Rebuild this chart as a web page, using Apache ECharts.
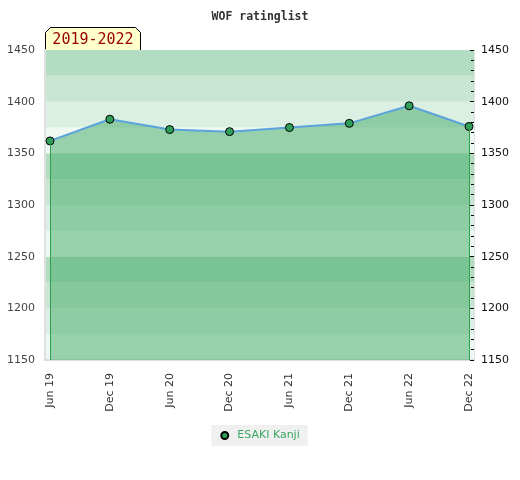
<!DOCTYPE html>
<html>
<head>
<meta charset="utf-8">
<script src="https://cdn.jsdelivr.net/npm/echarts@6/dist/echarts.min.js"></script>
<style>html,body{margin:0;padding:0;background:#fff}#c{width:520px;height:480px}</style>
</head>
<body>
<div id="c"></div>
<script>
var categories = ['Jun 19','Dec 19','Jun 20','Dec 20','Jun 21','Dec 21','Jun 22','Dec 22'];
var ratings = [1362, 1383, 1373, 1371, 1375, 1379, 1396, 1376];
var seriesName = 'ESAKI Kanji';
var periodLabel = '2019-2022';
var yMin = 1150, yMax = 1450;

var chart = echarts.init(document.getElementById('c'));
var option = {
  animation: false,
  title: {
    text: 'WOF ratinglist', left: 'center', top: 6,
    textStyle: { fontSize: 11.5, fontWeight: 'bold', fontFamily: 'DejaVu Sans Mono', color: '#333' }
  },
  legend: {
    bottom: 34, left: 'center',
    data: [{ name: seriesName, icon: 'circle' }],
    itemWidth: 7, itemHeight: 7,
    backgroundColor: '#f0f0f0', padding: [5, 8, 5, 9],
    textStyle: { color: '#3aa862', fontSize: 11, fontFamily: 'DejaVu Sans', padding: [0, 0, 0, 4] }
  },
  grid: [
    { left: 45, right: 46, top: 50, bottom: 120 },
    { left: 50, right: 51, top: 50, bottom: 120 }
  ],
  xAxis: [
    { type: 'value', gridIndex: 0, min: 0, max: 1, axisLabel: { show: false }, axisTick: { show: false },
      splitLine: { show: false }, axisLine: { show: true, lineStyle: { color: '#dddddd', width: 2 } } },
    { type: 'category', gridIndex: 1, data: categories, boundaryGap: false,
      axisLine: { show: false }, axisTick: { show: false },
      axisLabel: { rotate: 90, margin: 13, fontSize: 11, color: '#333', fontFamily: 'DejaVu Sans', interval: 0 } }
  ],
  yAxis: [
    { type: 'value', gridIndex: 0, min: yMin, max: yMax, interval: 25, position: 'left',
      axisLine: { show: true, lineStyle: { color: '#e0e0e0', width: 2 } }, axisTick: { show: false },
      splitLine: { show: false },
      splitArea: { show: true, areaStyle: { color: ['#eff8f2', '#dcefe3', '#c8e6d3', '#b3ddc2'] } },
      axisLabel: { margin: 10, fontSize: 11, color: '#444', fontFamily: 'DejaVu Sans',
        formatter: function (v) { return v % 50 === 0 ? String(v) : ''; } } },
    { type: 'value', gridIndex: 0, min: yMin, max: yMax, interval: 50, position: 'right',
      axisLine: { show: true, lineStyle: { color: '#e0e0e0', width: 1 } },
      axisTick: { show: true, inside: true, length: 4, lineStyle: { color: '#000' } },
      minorTick: { show: true, splitNumber: 5, length: 3, lineStyle: { color: '#000' } },
      splitLine: { show: false },
      axisLabel: { margin: 7, fontSize: 11, color: '#111', fontFamily: 'DejaVu Sans',
        formatter: function (v) { return String(v); } } },
    { type: 'value', gridIndex: 1, min: yMin, max: yMax, show: false }
  ],
  series: [{
    name: seriesName, type: 'line', xAxisIndex: 1, yAxisIndex: 2,
    data: ratings,
    symbol: 'circle', symbolSize: 8,
    lineStyle: { color: '#5ba3dc', width: 2 },
    itemStyle: { color: '#2f9f5a', borderColor: '#000', borderWidth: 1 },
    areaStyle: { color: 'rgba(64,170,102,0.5)', opacity: 1, origin: 'start' },
    markLine: {
      silent: true, symbol: 'none', label: { show: false },
      lineStyle: { color: '#2ea050', width: 1, type: 'solid' },
      data: [
        [{ coord: [categories[0], ratings[0]] }, { coord: [categories[0], yMin] }],
        [{ coord: [categories[categories.length - 1], ratings[ratings.length - 1]] },
         { coord: [categories[categories.length - 1], yMin] }]
      ]
    }
  }],
  graphic: [{
    type: 'group', left: 45, top: 27, z: 100,
    children: [
      { type: 'polygon', shape: { points: [[0, 23], [0, 5], [5, 0], [90, 0], [95, 5], [95, 23]] },
        style: { fill: '#ffffcc', stroke: '#000', lineWidth: 1 } },
      { type: 'text', x: 47.5, y: 13, style: { text: periodLabel, fill: '#990000',
        font: '15px "DejaVu Sans Mono"', align: 'center', verticalAlign: 'middle' } }
    ]
  }]
};
chart.setOption(option);
</script>
</body>
</html>
